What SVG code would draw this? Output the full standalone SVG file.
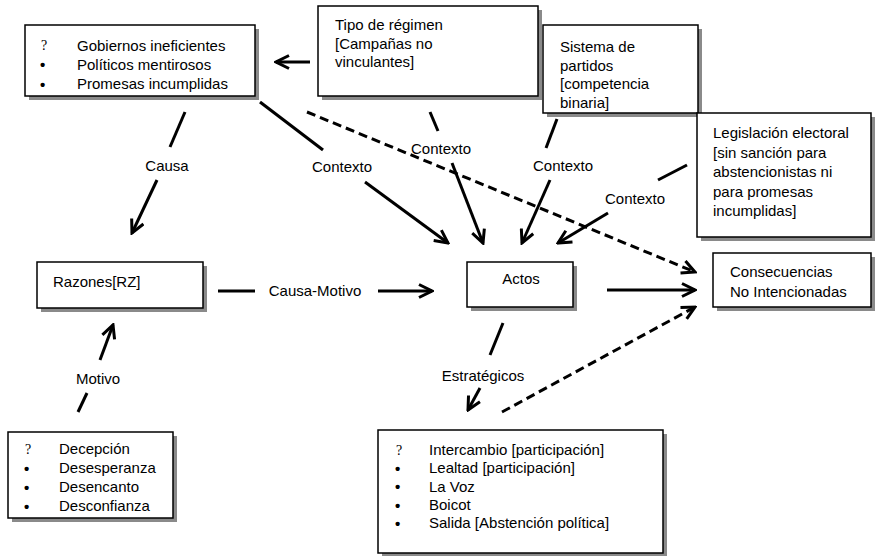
<svg xmlns="http://www.w3.org/2000/svg" width="875" height="556" viewBox="0 0 875 556">
<style>
.box{fill:#fff;stroke:#000;stroke-width:1.5}
.sh{fill:#8a8a8a}
.t{font-family:"Liberation Sans",Arial,sans-serif;font-size:15px;fill:#000}
.m{text-anchor:middle}
.sym{font-family:"Liberation Serif","Times New Roman",serif;font-size:14px;fill:#000}
.b{font-family:"Liberation Sans",Arial,sans-serif;font-size:15px;font-weight:bold;fill:#000}
.c{stroke:#000;stroke-width:3;fill:none}
.d{stroke-dasharray:9 5}
</style>
<defs>
<marker id="ah" viewBox="0 0 16 16" refX="14" refY="8" markerWidth="16" markerHeight="16" orient="auto" markerUnits="userSpaceOnUse">
<path d="M1,1.5 L14,8 L1,14.5" fill="none" stroke="#000" stroke-width="3"/>
</marker>
</defs>
<rect width="875" height="556" fill="#fff"/>

<g id="gobiernos">
<rect class="sh" x="29" y="29" width="230" height="71"/>
<rect class="box" x="25" y="25" width="230" height="71"/>
<text class="sym" x="41" y="50">?</text>
<text class="b" x="40" y="70">•</text>
<text class="b" x="40" y="89.5">•</text>
<text class="t" x="77" y="50.5">Gobiernos ineficientes</text>
<text class="t" x="77" y="69.5">Políticos mentirosos</text>
<text class="t" x="77" y="89">Promesas incumplidas</text>
</g>

<g id="tipo">
<rect class="sh" x="322" y="10" width="220" height="90"/>
<rect class="box" x="318" y="6" width="220" height="90"/>
<text class="t" x="335" y="30">Tipo de régimen</text>
<text class="t" x="335" y="48.5">[Campañas no</text>
<text class="t" x="335" y="67">vinculantes]</text>
</g>

<g id="sistema">
<rect class="sh" x="547" y="29" width="155" height="88"/>
<rect class="box" x="543" y="25" width="155" height="88"/>
<text class="t" x="560" y="52">Sistema de</text>
<text class="t" x="560" y="70.5">partidos</text>
<text class="t" x="560" y="89">[competencia</text>
<text class="t" x="560" y="107.5">binaria]</text>
</g>

<g id="legislacion">
<rect class="sh" x="701" y="117" width="174" height="124"/>
<rect class="box" x="697" y="113" width="174" height="124"/>
<text class="t" x="713" y="138">Legislación electoral</text>
<text class="t" x="713" y="157.5">[sin sanción para</text>
<text class="t" x="713" y="177">abstencionistas ni</text>
<text class="t" x="713" y="196.5">para promesas</text>
<text class="t" x="713" y="216">incumplidas]</text>
</g>

<g id="razones">
<rect class="sh" x="41" y="266" width="166" height="46"/>
<rect class="box" x="37" y="262" width="166" height="46"/>
<text class="t" x="53" y="287">Razones[RZ]</text>
</g>

<g id="actos">
<rect class="sh" x="471" y="266" width="106" height="45"/>
<rect class="box" x="467" y="262" width="106" height="45"/>
<text class="t m" x="521" y="284">Actos</text>
</g>

<g id="consecuencias">
<rect class="sh" x="717" y="257" width="158" height="54"/>
<rect class="box" x="713" y="253" width="158" height="54"/>
<text class="t" x="730" y="277">Consecuencias</text>
<text class="t" x="730" y="297">No Intencionadas</text>
</g>

<g id="decepcion">
<rect class="sh" x="12" y="436" width="165" height="86"/>
<rect class="box" x="8" y="432" width="165" height="86"/>
<text class="sym" x="25" y="454">?</text>
<text class="b" x="24" y="473.5">•</text>
<text class="b" x="24" y="492.5">•</text>
<text class="b" x="24" y="511.5">•</text>
<text class="t" x="59" y="454">Decepción</text>
<text class="t" x="59" y="473">Desesperanza</text>
<text class="t" x="59" y="492">Desencanto</text>
<text class="t" x="59" y="511">Desconfianza</text>
</g>

<g id="intercambio">
<rect class="sh" x="382" y="434" width="285" height="123"/>
<rect class="box" x="378" y="430" width="285" height="123"/>
<text class="sym" x="396" y="455">?</text>
<text class="b" x="395" y="473.5">•</text>
<text class="b" x="395" y="492">•</text>
<text class="b" x="395" y="510.5">•</text>
<text class="b" x="395" y="528.5">•</text>
<text class="t" x="429" y="455">Intercambio [participación]</text>
<text class="t" x="429" y="473">Lealtad [participación]</text>
<text class="t" x="429" y="491.5">La Voz</text>
<text class="t" x="429" y="510">Boicot</text>
<text class="t" x="429" y="528">Salida [Abstención política]</text>
</g>

<g id="connectors">
<line class="c" x1="310" y1="62" x2="276" y2="62" marker-end="url(#ah)"/>

<line class="c" x1="185" y1="112" x2="170" y2="147"/>
<text class="t m" x="167" y="171">Causa</text>
<line class="c" x1="157" y1="180" x2="132" y2="233" marker-end="url(#ah)"/>

<line class="c" x1="260" y1="102" x2="323" y2="150"/>
<text class="t m" x="342" y="172">Contexto</text>
<line class="c" x1="365" y1="182" x2="448" y2="243" marker-end="url(#ah)"/>

<line class="c" x1="430" y1="112" x2="438" y2="131"/>
<text class="t m" x="441" y="154">Contexto</text>
<line class="c" x1="452" y1="163" x2="483" y2="243" marker-end="url(#ah)"/>

<line class="c" x1="557" y1="119" x2="546" y2="148"/>
<text class="t m" x="563" y="171">Contexto</text>
<line class="c" x1="550" y1="180" x2="522" y2="243" marker-end="url(#ah)"/>

<line class="c" x1="687" y1="165" x2="658" y2="180"/>
<text class="t m" x="635" y="204">Contexto</text>
<line class="c" x1="608" y1="213" x2="558" y2="243" marker-end="url(#ah)"/>

<line class="c d" x1="307" y1="112" x2="695" y2="272" marker-end="url(#ah)"/>

<line class="c" x1="218" y1="291" x2="255" y2="291"/>
<text class="t m" x="315" y="296">Causa-Motivo</text>
<line class="c" x1="378" y1="291" x2="432" y2="291" marker-end="url(#ah)"/>

<line class="c" x1="607" y1="290" x2="695" y2="290" marker-end="url(#ah)"/>

<line class="c" x1="503" y1="323" x2="490" y2="355"/>
<text class="t m" x="483" y="381">Estratégicos</text>
<line class="c" x1="480" y1="388" x2="468" y2="410" marker-end="url(#ah)"/>

<line class="c d" x1="502" y1="412" x2="695" y2="307" marker-end="url(#ah)"/>

<line class="c" x1="78" y1="412" x2="87" y2="393"/>
<text class="t m" x="98" y="384">Motivo</text>
<line class="c" x1="100" y1="360" x2="113" y2="325" marker-end="url(#ah)"/>
</g>
</svg>
